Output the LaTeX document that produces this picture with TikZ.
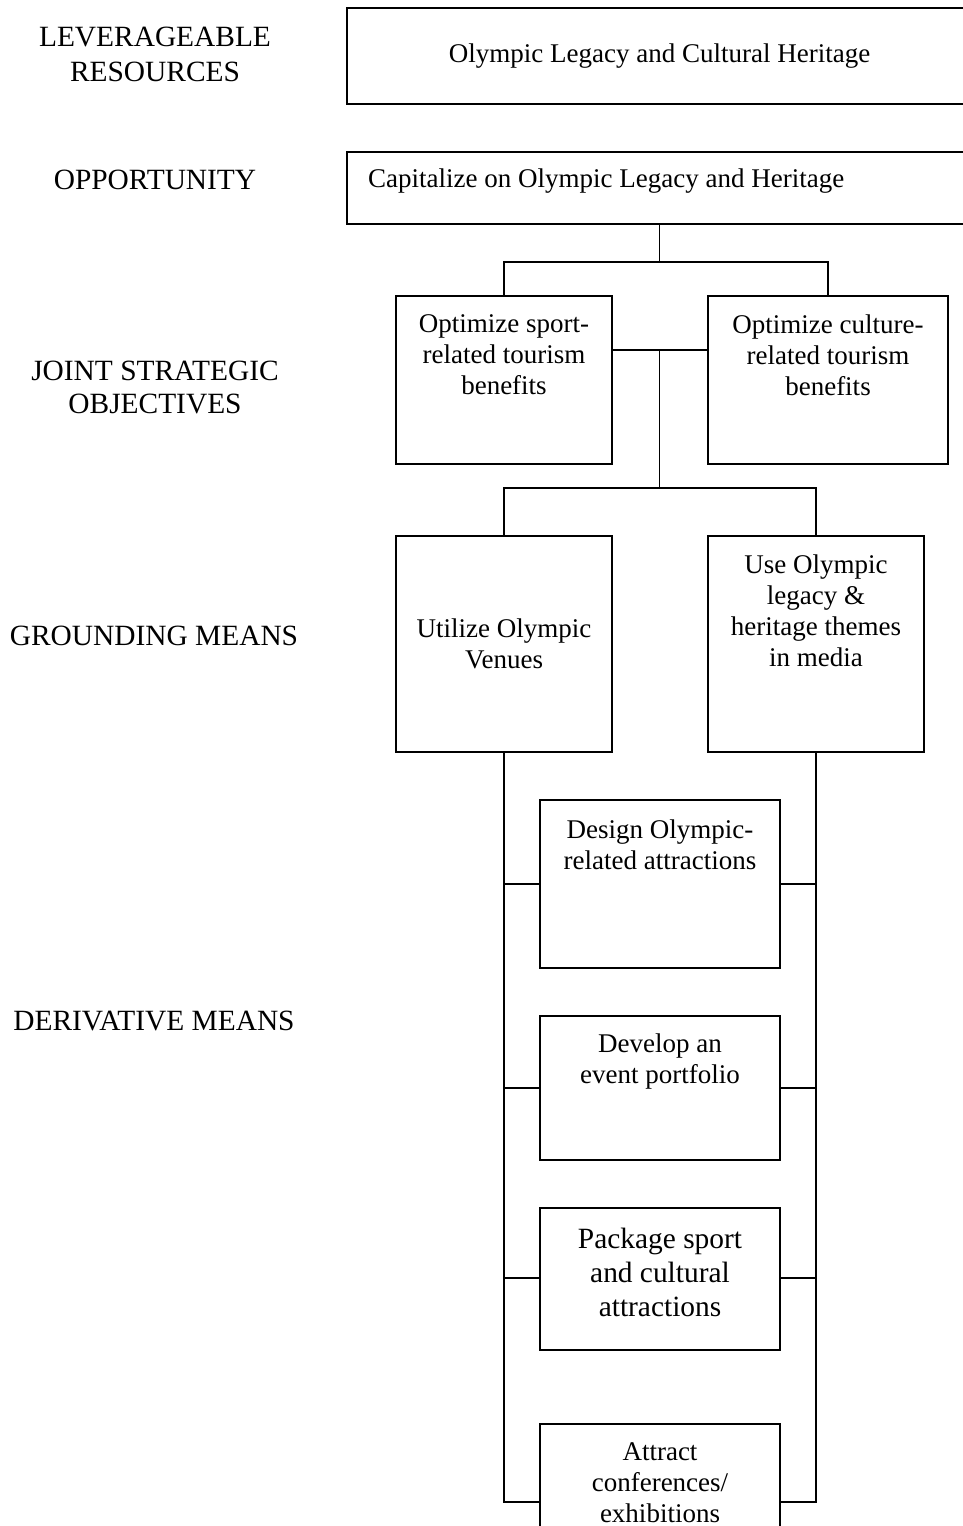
\documentclass[tikz,border=0pt]{standalone}
\usepackage{fontspec}
\setmainfont{Liberation Serif}
\begin{document}
\begin{tikzpicture}[x=1pt,y=-1pt,
  box/.style={draw,line width=1.5pt,inner sep=0pt,outer sep=0pt,rectangle},
  txt/.style={inner sep=0pt,align=center,font=\fontsize{27}{31}\selectfont},
  bigtxt/.style={inner sep=0pt,align=center,font=\fontsize{29.4}{34}\selectfont},
  lbl/.style={inner sep=0pt,align=center,font=\fontsize{29.4}{35}\selectfont},
  conn/.style={line width=1.5pt}]
\useasboundingbox (0,0) rectangle (963,1526);
\clip (0,0) rectangle (963,1526);
% left labels
\node[lbl] (l1) at (155,54) {LEVERAGEABLE\\RESOURCES};
\node[lbl] (l2) at (155,180) {OPPORTUNITY};
\node[lbl,font=\fontsize{29.4}{33}\selectfont] (l3) at (155,387.5) {JOINT STRATEGIC\\OBJECTIVES};
\node[lbl] (l4) at (154,636) {GROUNDING MEANS};
\node[lbl] (l5) at (154,1021) {DERIVATIVE MEANS};
% boxes
\node[box,txt,minimum width=625pt,minimum height=96pt] (res) at (659.5,56) {Olympic Legacy and Cultural Heritage};
\node[box,minimum width=625pt,minimum height=72pt] (opp) at (659.5,188) {};
\node[txt,anchor=west] (oppt) at (368,181) {Capitalize on Olympic Legacy and Heritage};
\node[box,minimum width=216pt,minimum height=168pt] (sport) at (504,380) {};
\node[txt] (sportt) at (504,355) {Optimize sport-\\related tourism\\benefits};
\node[box,minimum width=240pt,minimum height=168pt] (culture) at (828,380) {};
\node[txt] (culturet) at (828,355) {Optimize culture-\\related tourism\\benefits};
\node[box,txt,minimum width=216pt,minimum height=216pt] (venues) at (504,644) {Utilize Olympic\\Venues};
\node[box,minimum width=216pt,minimum height=216pt] (media) at (816,644) {};
\node[txt] (mediat) at (816,611) {Use Olympic\\legacy \&\\heritage themes\\in media};
\node[box,minimum width=240pt,minimum height=168pt] (design) at (660,884) {};
\node[txt] (designt) at (660,845) {Design Olympic-\\related attractions};
\node[box,minimum width=240pt,minimum height=144pt] (develop) at (660,1088) {};
\node[txt] (developt) at (660,1061) {Develop an\\event portfolio};
\node[box,minimum width=240pt,minimum height=142pt] (package) at (660,1279) {};
\node[bigtxt] (packaget) at (660,1272) {Package sport\\and cultural\\attractions};
\node[box,minimum width=240pt,minimum height=156pt] (attract) at (660,1502) {};
\node[txt] (attractt) at (660,1483) {Attract\\conferences/\\exhibitions};
% connectors
\coordinate (j1) at (659.5,262);
\coordinate (j2) at (659.5,350);
\coordinate (j3) at (659.5,488);
\draw[conn] (opp.south) -- (j1);
\draw[conn] (sport.north) |- (j1) -| (culture.north);
\draw[conn] (j2 -| sport.east) -- (j2 -| culture.west);
\draw[conn] (j2) -- (j3);
\draw[conn] (venues.north) |- (j3) -| (media.north);
\draw[conn] (venues.south) |- (attract.west);
\draw[conn] (media.south) |- (attract.east);
\foreach \b in {design,develop} {
  \draw[conn] (\b.west) -- (\b.west -| venues.south);
  \draw[conn] (\b.east) -- (\b.east -| media.south);
}
\draw[conn] (package.west |- 0,1278) -- (venues.south |- 0,1278);
\draw[conn] (package.east |- 0,1278) -- (media.south |- 0,1278);
\end{tikzpicture}
\end{document}
